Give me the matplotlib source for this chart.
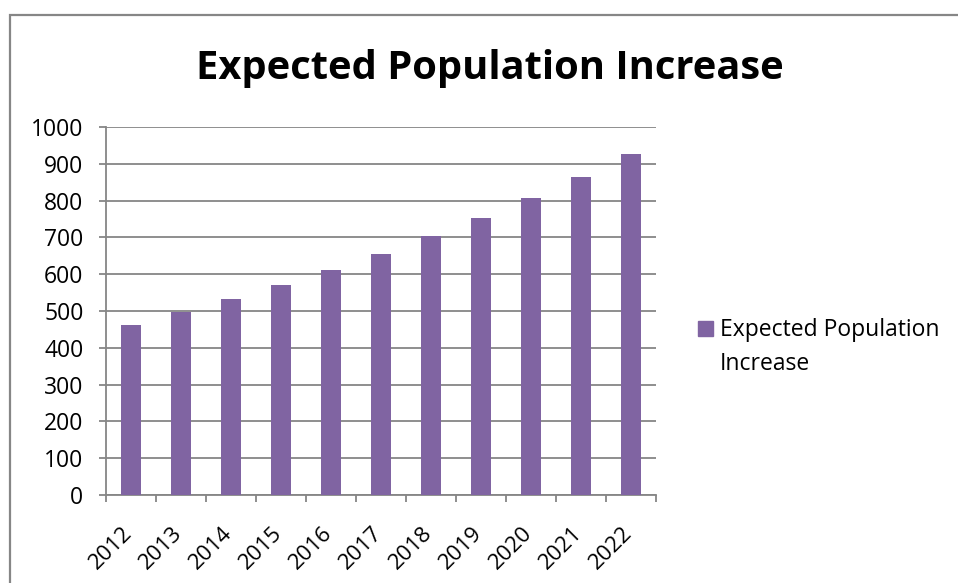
import matplotlib.pyplot as plt
from matplotlib.patches import Rectangle
from matplotlib.ticker import FixedLocator
from matplotlib.transforms import ScaledTranslation

years = ["2012", "2013", "2014", "2015", "2016", "2017", "2018", "2019", "2020", "2021", "2022"]
increase = [463, 498, 532, 571, 611, 656, 703, 753, 807, 865, 927]
series_name = "Expected Population Increase"

bar_color = "#8064A2"
line_color = "#868686"

plt.rcParams["font.family"] = ["Open Sans", "DejaVu Sans"]

fig = plt.figure(figsize=(9.58, 5.83), dpi=100)
ax = fig.add_axes([0.1103, 0.151, 0.5745, 0.631])

x = range(len(years))
ax.bar(x, increase, width=0.4, color=bar_color, zorder=3)

ax.set_xlim(-0.5, len(years) - 0.5)
ax.set_ylim(0, 1000)
ax.set_yticks(range(0, 1001, 100))
ax.grid(axis="y", color=line_color, linewidth=1.3, zorder=0)

ax.set_xticks(list(x))
ax.set_xticklabels(years, rotation=45, ha="right", va="top", rotation_mode="anchor")
ax.xaxis.set_minor_locator(FixedLocator([i - 0.5 for i in range(len(years) + 1)]))
ax.tick_params(axis="x", which="major", length=0, pad=20, labelsize=16)
ax.tick_params(axis="x", which="minor", length=5, width=1.3, color=line_color)
ax.tick_params(axis="y", length=5, width=1.3, color=line_color, labelsize=16.5, pad=11)

# nudge the slanted year labels a little to the left
shift = ScaledTranslation(-9 / 100, 0, fig.dpi_scale_trans)
for lbl in ax.get_xticklabels():
    lbl.set_transform(lbl.get_transform() + shift)

for side in ["top", "right"]:
    ax.spines[side].set_visible(False)
for side in ["left", "bottom"]:
    ax.spines[side].set_color(line_color)
    ax.spines[side].set_linewidth(1.3)

fig.text(0.511, 1 - 69 / 583, series_name, ha="center", va="center",
         fontsize=28.7, fontweight="bold")

# legend: swatch next to a wrapped label
fig.add_artist(Rectangle((698 / 958, 1 - 336 / 583), 15 / 958, 15 / 583,
                         transform=fig.transFigure, color=bar_color))
fig.text(720 / 958, 1 - 318 / 583, "Expected Population\nIncrease",
         ha="left", va="top", fontsize=16.5, linespacing=1.55)

# chart frame
fig.add_artist(Rectangle((9.5 / 958, -0.05), 1.05, 1 - 14.5 / 583 + 0.05,
                         transform=fig.transFigure, fill=False,
                         edgecolor=line_color, linewidth=1.6))

fig.savefig("out.png", dpi=100)
